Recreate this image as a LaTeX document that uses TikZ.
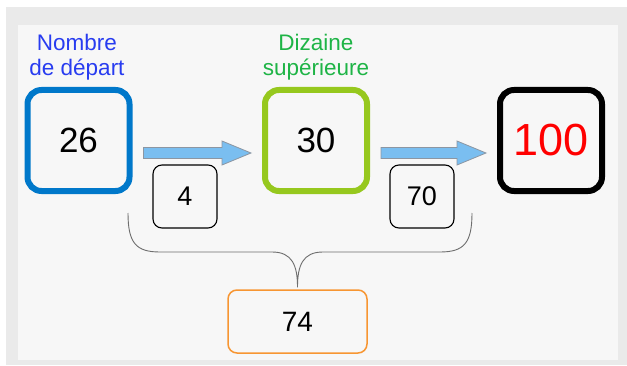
\documentclass[tikz,border=0pt]{standalone}
\usepackage{fontspec}
\setmainfont{Liberation Sans}
\usetikzlibrary{calc}
\definecolor{framegray}{RGB}{234,234,234}
\definecolor{panelgray}{RGB}{247,247,247}
\definecolor{startblue}{RGB}{0,120,202}
\definecolor{textblue}{RGB}{40,60,240}
\definecolor{tengreen}{RGB}{150,200,30}
\definecolor{textgreen}{RGB}{30,180,70}
\definecolor{arrowblue}{RGB}{122,190,240}
\definecolor{arrowedge}{RGB}{140,150,162}
\definecolor{sumorange}{RGB}{247,150,50}
\definecolor{bracegray}{RGB}{110,110,110}
\newcommand{\fs}[1]{\fontsize{#1}{#1}\selectfont}
\newcommand{\blockarrow}[2]{%
  \draw [line width=0.8pt, draw=arrowedge, fill=arrowblue]
    ($(#1.east)+(11,-7)$) -- ($(#2.west)+(-40,-7)$)
    -- ($(#2.west)+(-40,-0.5)$) -- ($(#2.west)+(-11,-12.5)$)
    -- ($(#2.west)+(-40,-24.5)$) -- ($(#2.west)+(-40,-18)$)
    -- ($(#1.east)+(11,-18)$) -- cycle;}

\begin{document}
\begin{tikzpicture}[x=1pt, y=1pt,
    bigbox/.style={draw, line width=6pt, rounded corners=14pt, inner sep=0pt,
      minimum width=102pt, minimum height=101pt, font=\fs{35}},
    smallbox/.style={draw, line width=1.1pt, rounded corners=9pt, inner sep=0pt,
      minimum width=64pt, minimum height=63pt, font=\fs{27}},
    caption/.style={align=center, font=\fontsize{22.5}{25}\selectfont}]
    \useasboundingbox (0,0) rectangle (627,365);
    \fill [framegray] (6,0) rectangle (627,358);
    \fill [panelgray] (18,5) rectangle (618,340);
    \node [bigbox, draw=startblue] (1) at (78.5,224.5) {26};
    \node [bigbox, draw=tengreen] (2) at (316,224.5) {30};
    \node [bigbox, draw=black, text=red, font=\fs{45}] (3) at (551,224.5) {100};
    \node [smallbox] (4) at (185,168.5) {4};
    \node [smallbox] (5) at (422,168.5) {70};
    \node [smallbox, draw=sumorange, line width=1.5pt, minimum width=139pt,
      font=\fs{28}] (6) at (297.5,43.5) {74};
    \node [caption, text=textblue] (n1) at (77,307.5) {Nombre\\de départ};
    \node [caption, text=textgreen] (n2) at (316,307.5) {Dizaine\\supérieure};
    \blockarrow{1}{2}
    \blockarrow{2}{3}
    \coordinate (bl) at (128,152);
    \coordinate (br) at (472,152);
    \draw [bracegray, line width=0.9pt]
      (bl) .. controls (128,122) and (136,113) .. (160,113) -- (272,113)
      .. controls (292,113) and (297.5,100) .. ([yshift=2pt]6.north)
      .. controls (297.5,100) and (303,113) .. (323,113) -- (440,113)
      .. controls (464,113) and (472,122) .. (br);
\end{tikzpicture}
\end{document}
